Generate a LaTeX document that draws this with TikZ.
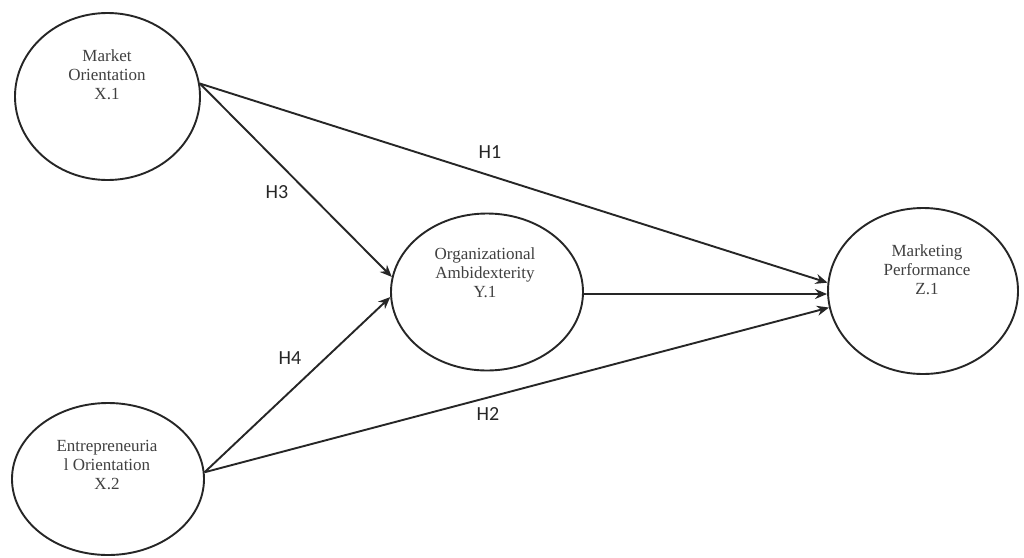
\documentclass[tikz,border=0pt]{standalone}
\usepackage{fontspec}
\setmainfont{Liberation Serif}
\newfontfamily\lblfont{Carlito}
\usetikzlibrary{shapes.geometric,arrows.meta}
\begin{document}
\begin{tikzpicture}[x=1pt,y=-1pt,
  latent/.style={draw=black!85, line width=1.9pt, ellipse, inner sep=0pt},
  ltext/.style={align=center, font=\fontsize{17}{19}\selectfont, text=black!75, inner sep=0pt},
  hlabel/.style={font=\lblfont\fontsize{20}{24}\selectfont, text=black!85, inner sep=0pt},
  conn/.style={draw=black!85, line width=1.9pt, -{Stealth[length=12pt,width=10pt]}}
]
\useasboundingbox (0,0) rectangle (1024,557);
\fill[white] (0,0) rectangle (1024,557);

% latent variables
\node[latent, minimum width=185pt, minimum height=167pt] (mo) at (107.5,96.5) {};
\node[latent, minimum width=192pt, minimum height=152pt] (eo) at (108,479) {};
\node[latent, minimum width=192pt, minimum height=157pt] (oa) at (487,292) {};
\node[latent, minimum width=190pt, minimum height=166pt] (mp) at (923,291) {};

% texts inside ellipses
\node[ltext] (motext) at (107,75) {Market\\Orientation\\X.1};
\node[ltext] (eotext) at (107,465) {Entrepreneuria\\l Orientation\\X.2};
\node[ltext] (oatext) at (485,273) {Organizational\\Ambidexterity\\Y.1};
\node[ltext] (mptext) at (927,270) {Marketing\\Performance\\Z.1};

% connectors
\draw[conn] (mo.8) -- (mp.175);
\draw[conn] (mo.8) -- (oa.171);
\draw[conn] (eo.4) -- (oa.183);
\draw[conn] (eo.4) -- (mp.190);
\draw[conn] ([yshift=-2pt]oa.east) -- ([yshift=-2pt]oa.east -| mp.west);

% hypothesis labels
\node[hlabel] (h1) at (490,152) {H1};
\node[hlabel] (h3) at (277,192) {H3};
\node[hlabel] (h4) at (290,358) {H4};
\node[hlabel] (h2) at (488,414) {H2};
\end{tikzpicture}
\end{document}
